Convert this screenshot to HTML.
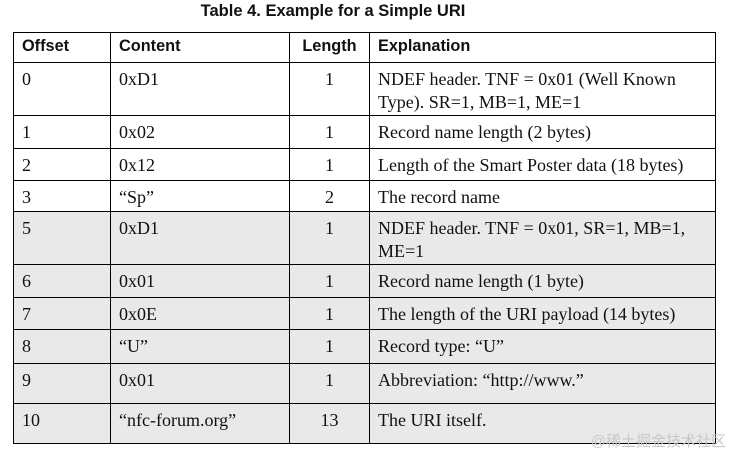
<!DOCTYPE html>
<html><head><meta charset="utf-8"><style>
body{margin:0;width:734px;height:463px;background:#fff;position:relative;overflow:hidden}
.t{position:absolute;left:0;top:2px;width:666px;text-align:center;font:bold 16.5px "Liberation Sans",sans-serif;color:#111}
.r{position:absolute;left:13px;width:703px;border:1px solid #000;box-sizing:border-box;border-top:none}
.c{position:absolute;top:0;bottom:0;font:18px "Liberation Serif",serif;color:#111;padding-top:5px;line-height:23px;box-sizing:border-box;white-space:nowrap}
.h .c{font:bold 16.3px "Liberation Sans",sans-serif;padding-top:4px}
.c1{left:0;width:96px;padding-left:8px}
.c2{left:96px;width:179px;border-left:1.5px solid #000;padding-left:8px}
.c3{left:275px;width:80px;border-left:1.5px solid #000;text-align:center}
.c4{left:355px;right:0;border-left:1.5px solid #000;padding-left:8px}
.g{background:#e9e9e9}
.wm{position:absolute;right:8px;top:430px;font:15px "Liberation Sans","Noto Sans CJK SC",sans-serif;color:#c8c8c8}
</style></head><body>
<div class="t">Table 4. Example for a Simple URI</div>
<div class="r h" style="top:32px;height:31px;border-top:1px solid #000"><div class="c c1">Offset</div><div class="c c2">Content</div><div class="c c3">Length</div><div class="c c4">Explanation</div></div>
<div class="r" style="top:63px;height:53px"><div class="c c1">0</div><div class="c c2">0xD1</div><div class="c c3">1</div><div class="c c4">NDEF header. TNF = 0x01 (Well Known<br>Type). SR=1, MB=1, ME=1</div></div>
<div class="r" style="top:116px;height:33px"><div class="c c1">1</div><div class="c c2">0x02</div><div class="c c3">1</div><div class="c c4">Record name length (2 bytes)</div></div>
<div class="r" style="top:149px;height:32px"><div class="c c1">2</div><div class="c c2">0x12</div><div class="c c3">1</div><div class="c c4">Length of the Smart Poster data (18 bytes)</div></div>
<div class="r" style="top:181px;height:31px"><div class="c c1">3</div><div class="c c2">“Sp”</div><div class="c c3">2</div><div class="c c4">The record name</div></div>
<div class="r g" style="top:212px;height:53px"><div class="c c1">5</div><div class="c c2">0xD1</div><div class="c c3">1</div><div class="c c4">NDEF header. TNF = 0x01, SR=1, MB=1,<br>ME=1</div></div>
<div class="r g" style="top:265px;height:33px"><div class="c c1">6</div><div class="c c2">0x01</div><div class="c c3">1</div><div class="c c4">Record name length (1 byte)</div></div>
<div class="r g" style="top:298px;height:32px"><div class="c c1">7</div><div class="c c2">0x0E</div><div class="c c3">1</div><div class="c c4">The length of the URI payload (14 bytes)</div></div>
<div class="r g" style="top:330px;height:34px"><div class="c c1">8</div><div class="c c2">“U”</div><div class="c c3">1</div><div class="c c4">Record type: “U”</div></div>
<div class="r g" style="top:364px;height:40px"><div class="c c1">9</div><div class="c c2">0x01</div><div class="c c3">1</div><div class="c c4">Abbreviation: “http://www.”</div></div>
<div class="r g" style="top:404px;height:40px"><div class="c c1">10</div><div class="c c2">“nfc-forum.org”</div><div class="c c3">13</div><div class="c c4">The URI itself.</div></div>
<div class="wm">@稀土掘金技术社区</div>
</body></html>
